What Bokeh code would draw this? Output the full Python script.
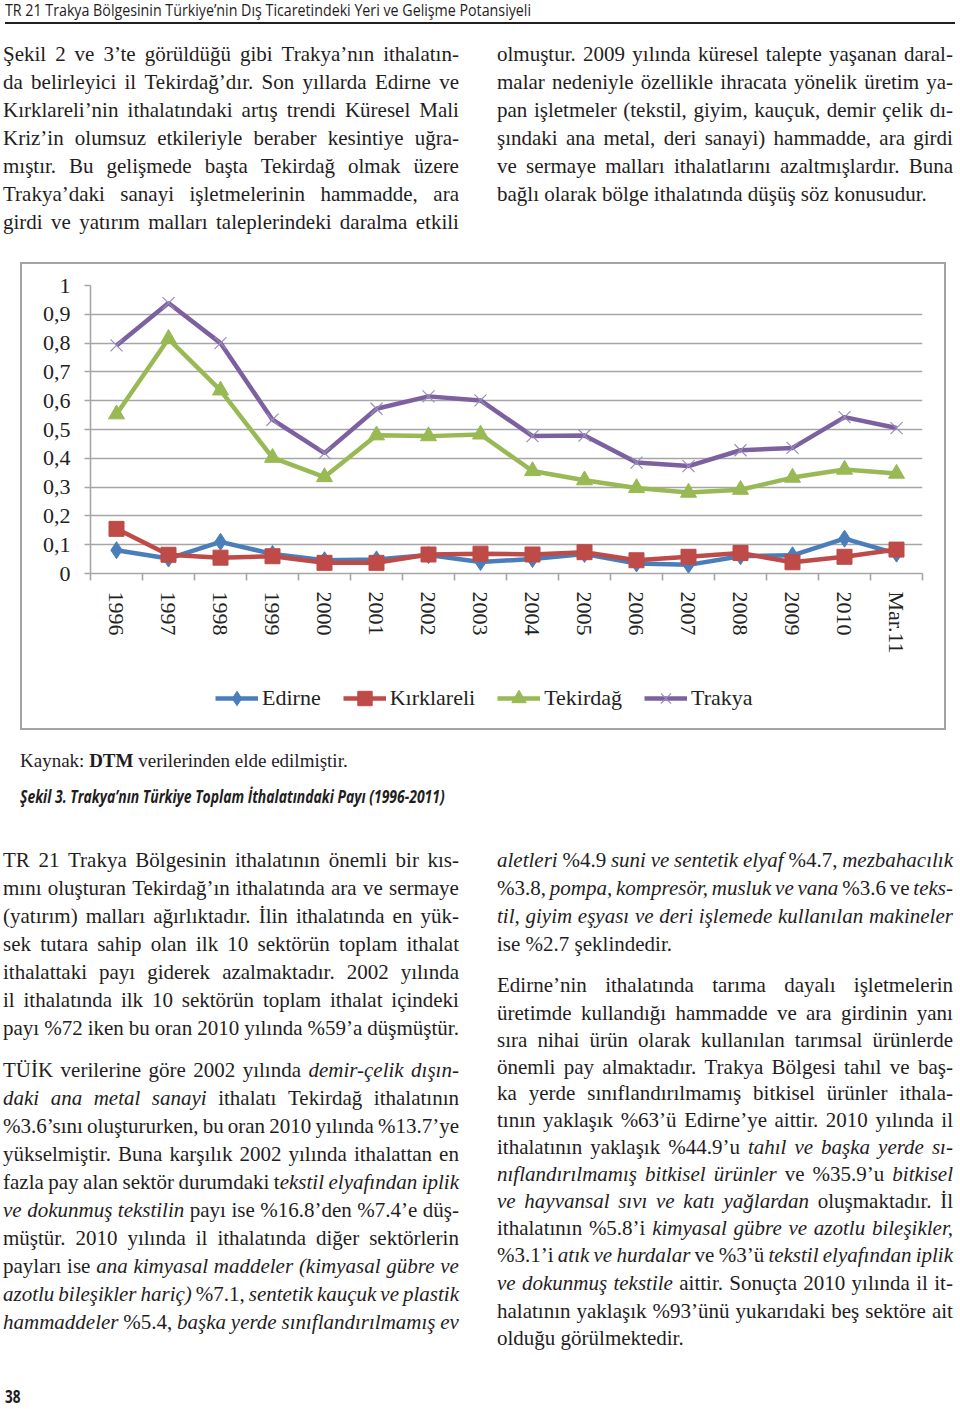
from bokeh.plotting import figure
from bokeh.models import (Range1d, FixedTicker, CustomJSTickFormatter, Legend,
                          LegendItem, Div, Spacer)
from bokeh.layouts import column, row
from bokeh.embed import file_html
from bokeh.resources import INLINE
import numpy as np
import html

# ---------------- chart data ----------------
years = ["1996", "1997", "1998", "1999", "2000", "2001", "2002", "2003",
         "2004", "2005", "2006", "2007", "2008", "2009", "2010", "Mar.11"]
edirne = [0.081, 0.052, 0.110, 0.068, 0.046, 0.049, 0.064, 0.040,
          0.050, 0.068, 0.035, 0.030, 0.060, 0.063, 0.121, 0.069]
kirklareli = [0.155, 0.065, 0.055, 0.060, 0.037, 0.037, 0.066, 0.069,
              0.066, 0.074, 0.046, 0.058, 0.071, 0.039, 0.058, 0.083]
tekirdag = [0.553, 0.815, 0.636, 0.402, 0.335, 0.480, 0.477, 0.483,
            0.356, 0.324, 0.297, 0.281, 0.291, 0.333, 0.361, 0.347]
trakya = [0.792, 0.939, 0.800, 0.534, 0.418, 0.572, 0.615, 0.601,
          0.477, 0.479, 0.385, 0.373, 0.428, 0.436, 0.543, 0.505]
series_names = ["Edirne", "Kırklareli", "Tekirdağ", "Trakya"]
y_ticks = [0, 0.1, 0.2, 0.3, 0.4, 0.5, 0.6, 0.7, 0.8, 0.9, 1]

# ---------------- page text ----------------
header_text = "TR 21 Trakya Bölgesinin Türkiye’nin Dış Ticaretindeki Yeri ve Gelişme Potansiyeli"

top_left = [
    "Şekil 2 ve 3’te görüldüğü gibi Trakya’nın ithalatın-",
    "da belirleyici il Tekirdağ’dır. Son yıllarda Edirne ve",
    "Kırklareli’nin ithalatındaki artış trendi Küresel Mali",
    "Kriz’in olumsuz etkileriyle beraber kesintiye uğra-",
    "mıştır. Bu gelişmede başta Tekirdağ olmak üzere",
    "Trakya’daki sanayi işletmelerinin hammadde, ara",
    "girdi ve yatırım malları taleplerindeki daralma etkili",
]
top_left_y = [55, 83, 111, 139, 167, 195, 223]
top_right = [
    "olmuştur. 2009 yılında küresel talepte yaşanan daral-",
    "malar nedeniyle özellikle ihracata yönelik üretim ya-",
    "pan işletmeler (tekstil, giyim, kauçuk, demir çelik dı-",
    "şındaki ana metal, deri sanayi) hammadde, ara girdi",
    "ve sermaye malları ithalatlarını azaltmışlardır. Buna",
    "bağlı olarak bölge ithalatında düşüş söz konusudur.",
]
top_right_y = [55, 83, 111, 139, 167, 195]

source_text = "Kaynak: <b>DTM</b> verilerinden elde edilmiştir."
caption_text = "Şekil 3. Trakya’nın Türkiye Toplam İthalatındaki Payı (1996-2011)"

bl_p1 = [
    "TR 21 Trakya Bölgesinin ithalatının önemli bir kıs-",
    "mını oluşturan Tekirdağ’ın ithalatında ara ve sermaye",
    "(yatırım) malları ağırlıktadır. İlin ithalatında en yük-",
    "sek tutara sahip olan ilk 10 sektörün toplam ithalat",
    "ithalattaki payı giderek azalmaktadır. 2002 yılında",
    "il ithalatında ilk 10 sektörün toplam ithalat içindeki",
    "payı %72 iken bu oran 2010 yılında %59’a düşmüştür.",
]
bl_p1_y = [861, 889, 917, 945, 973, 1001, 1029]
bl_p2 = [
    "TÜİK verilerine göre 2002 yılında *demir-çelik dışın-*",
    "*daki ana metal sanayi* ithalatı Tekirdağ ithalatının",
    "%3.6’sını oluştururken, bu oran 2010 yılında %13.7’ye",
    "yükselmiştir. Buna karşılık 2002 yılında ithalattan en",
    "fazla pay alan sektör durumdaki t*ekstil elyafından iplik*",
    "*ve dokunmuş tekstilin* payı ise %16.8’den %7.4’e düş-",
    "müştür. 2010 yılında il ithalatında diğer sektörlerin",
    "payları ise *ana kimyasal maddeler (kimyasal gübre ve*",
    "*azotlu bileşikler hariç)* %7.1, *sentetik kauçuk ve plastik*",
    "*hammaddeler* %5.4, *başka yerde sınıflandırılmamış ev*",
]
bl_p2_y = [1071, 1099, 1127, 1155, 1183, 1211, 1239, 1267, 1295, 1323]
br_p1 = [
    "*aletleri* %4.9 *suni ve sentetik elyaf* %4.7, *mezbahacılık*",
    "%3.8, *pompa, kompresör, musluk ve vana* %3.6 ve *teks-*",
    "*til, giyim eşyası ve deri işlemede kullanılan makineler*",
    "ise %2.7 şeklindedir.",
]
br_p1_y = [861, 889, 917, 945]
br_p2 = [
    "Edirne’nin ithalatında tarıma dayalı işletmelerin",
    "üretimde kullandığı hammadde ve ara girdinin yanı",
    "sıra nihai ürün olarak kullanılan tarımsal ürünlerde",
    "önemli pay almaktadır. Trakya Bölgesi tahıl ve baş-",
    "ka yerde sınıflandırılmamış bitkisel ürünler ithala-",
    "tının yaklaşık %63’ü Edirne’ye aittir. 2010 yılında il",
    "ithalatının yaklaşık %44.9’u *tahıl ve başka yerde sı-*",
    "*nıflandırılmamış bitkisel ürünler* ve %35.9’u *bitkisel*",
    "*ve hayvansal sıvı ve katı yağlardan* oluşmaktadır. İl",
    "ithalatının %5.8’i *kimyasal gübre ve azotlu bileşikler,*",
    "%3.1’i *atık ve hurdalar* ve %3’ü *tekstil elyafından iplik*",
    "*ve dokunmuş tekstile* aittir. Sonuçta 2010 yılında il it-",
    "halatının yaklaşık %93’ünü yukarıdaki beş sektöre ait",
    "olduğu görülmektedir.",
]
br_p2_y = [986, 1014, 1041, 1068, 1094, 1121, 1148, 1175, 1202, 1229,
           1256, 1284, 1312, 1339]
page_number = "38"

SERIF = "'Liberation Serif', 'Times New Roman', serif"
SANS = "'Open Sans', sans-serif"
TEXT_COLOR = "#1f1d1e"
FS = 21      # body font size
LH = 28      # line box height


def words_html(line):
    out = []
    italic = False
    for word in line.split(" "):
        parts = word.split("*")
        h = ""
        for k, part in enumerate(parts):
            if k > 0:
                italic = not italic
            if part:
                e = html.escape(part)
                h += f"<i>{e}</i>" if italic else e
        out.append(h)
    return out


def line_div(line, left, top, width, justify):
    ws = words_html(line)
    style = (f"position:absolute;left:{left}px;top:{top}px;width:{width}px;"
             f"height:{LH}px;line-height:{LH}px;font-size:{FS}px;white-space:nowrap;")
    if justify:
        style += "display:flex;justify-content:space-between;"
        inner = "".join(f"<span>{w}</span>" for w in ws)
    else:
        inner = " ".join(ws)
    return f'<div style="{style}">{inner}</div>'


def para(lines, ys, left, width, offset, last_justified):
    out = []
    for i, (ln, yc) in enumerate(zip(lines, ys)):
        just = last_justified or i < len(lines) - 1
        out.append(line_div(ln, left, yc - 15 - offset, width, just))
    return "".join(out)


PAGE_W = 960
TOP_H = 262
CHART_H = 468
BOT_H = 1409 - TOP_H - CHART_H
B = TOP_H + CHART_H

LEFT_X, LEFT_W = 3, 456
RIGHT_X, RIGHT_W = 497, 456

# ---------------- top block ----------------
top_html = (
    f'<div style="position:relative;width:{PAGE_W}px;height:{TOP_H}px;'
    f'font-family:{SERIF};color:{TEXT_COLOR};">'
    f'<div style="position:absolute;left:5px;top:1px;white-space:nowrap;'
    f'font-family:{SANS};font-size:16px;line-height:18px;color:{TEXT_COLOR};'
    f'transform:scaleX(0.89);transform-origin:0 0;">{html.escape(header_text)}</div>'
    f'<div style="position:absolute;left:5px;top:21.5px;width:950px;height:2.5px;'
    f'background:#231f20;"></div>'
    + para(top_left, top_left_y, LEFT_X, LEFT_W, 0, True)
    + para(top_right, top_right_y, RIGHT_X, RIGHT_W, 0, False)
    + '</div>'
)
top_div = Div(text=top_html, width=PAGE_W, height=TOP_H, margin=(0, 0, 0, 0))

# ---------------- chart ----------------
BORDER = "#a3a3a3"
FIG_W = 922
INNER_H = 464
LEG_H = 60
MAIN_H = INNER_H - LEG_H

p = figure(width=FIG_W, height=MAIN_H, output_backend="svg", toolbar_location=None,
           x_range=Range1d(0, len(years)), y_range=Range1d(0, 1),
           min_border_left=68, min_border_right=22, min_border_top=21,
           min_border_bottom=MAIN_H - 21 - 288, outline_line_color=None,
           background_fill_color="white", border_fill_color="white")

xs = np.arange(len(years)) + 0.5
GRID = "#a6a6a6"

p.xgrid.visible = False
p.ygrid.ticker = FixedTicker(ticks=y_ticks)
p.ygrid.grid_line_color = GRID
p.ygrid.grid_line_width = 1.6

p.yaxis.ticker = FixedTicker(ticks=y_ticks)
p.yaxis.formatter = CustomJSTickFormatter(code="""
    if (Math.abs(tick) < 1e-9) return '0';
    if (Math.abs(tick - 1) < 1e-9) return '1';
    return tick.toFixed(1).replace('.', ',');
""")
p.yaxis.axis_line_color = GRID
p.yaxis.axis_line_width = 1.6
p.yaxis.major_tick_line_color = GRID
p.yaxis.major_tick_line_width = 1.6
p.yaxis.major_tick_out = 6
p.yaxis.major_tick_in = 0
p.yaxis.minor_tick_line_color = None
p.yaxis.major_label_standoff = 14
p.yaxis.major_label_text_font = "Liberation Serif"
p.yaxis.major_label_text_font_size = "22px"
p.yaxis.major_label_text_color = "#222222"

p.xaxis.ticker = FixedTicker(ticks=list(xs), minor_ticks=list(range(len(years) + 1)))
p.xaxis.formatter = CustomJSTickFormatter(args=dict(labels=years), code="""
    return labels[Math.floor(tick)];
""")
p.xaxis.axis_line_color = GRID
p.xaxis.axis_line_width = 1.6
p.xaxis.major_tick_line_color = None
p.xaxis.major_tick_out = 0
p.xaxis.major_tick_in = 0
p.xaxis.minor_tick_line_color = GRID
p.xaxis.minor_tick_line_width = 1.6
p.xaxis.minor_tick_out = 7
p.xaxis.minor_tick_in = 0
p.xaxis.major_label_orientation = "vertical"
p.xaxis.major_label_standoff = 11
p.xaxis.major_label_text_font = "Liberation Serif"
p.xaxis.major_label_text_font_size = "22px"
p.xaxis.major_label_text_color = "#222222"

colors = ["#4a7ebb", "#be4b48", "#98b954", "#7d60a0"]
values = [edirne, kirklareli, tekirdag, trakya]
markers = ["diamond", "square", "triangle", "x"]
msizes = [17, 15, 16, 17]


def draw_series(fig, name, vals, col, mk, ms):
    ln = fig.line(xs, vals, line_color=col, line_width=4.5)
    if mk == "x":
        sc = fig.scatter(xs, vals, marker="x", size=ms, line_color="#9a8cb8",
                         line_width=1.2)
    else:
        sc = fig.scatter(xs, vals, marker=mk, size=ms, fill_color=col,
                         line_color=col, line_width=1)
    return ln, sc


for name, vals, col, mk, ms in zip(series_names, values, colors, markers, msizes):
    draw_series(p, name, vals, col, mk, ms)

# legend strip: its own figure (same series, outside its visible y-range)
pl = figure(width=FIG_W, height=LEG_H, output_backend="svg", toolbar_location=None,
            x_range=Range1d(0, len(years)), y_range=Range1d(10, 11),
            min_border=0, outline_line_color=None,
            background_fill_color="white", border_fill_color="white")
pl.axis.visible = False
pl.grid.visible = False
items = []
for name, vals, col, mk, ms in zip(series_names, values, colors, markers, msizes):
    ln, sc = draw_series(pl, name, vals, col, mk, ms)
    items.append(LegendItem(label=name, renderers=[ln, sc]))

legend = Legend(items=items, orientation="horizontal", location=(125, 12),
                border_line_color=None, background_fill_alpha=0,
                label_text_font="Liberation Serif", label_text_font_size="22px",
                label_text_color="#222222",
                glyph_width=43, glyph_height=36, spacing=22, label_standoff=4,
                padding=0, margin=0)
pl.add_layout(legend, "center")

hline = lambda: Div(width=926, height=2, margin=(0, 0, 0, 0),
                    styles={"background-color": BORDER})
vline = lambda: Div(width=2, height=INNER_H, margin=(0, 0, 0, 0),
                    styles={"background-color": BORDER})
chart_block = row(
    Spacer(width=20, height=CHART_H, margin=(0, 0, 0, 0)),
    column(hline(),
           row(vline(), column(p, pl, spacing=0), vline(), spacing=0),
           hline(), spacing=0),
    spacing=0,
)

# ---------------- bottom block ----------------
bottom_html = (
    f'<div style="position:relative;width:{PAGE_W}px;height:{BOT_H}px;'
    f'font-family:{SERIF};color:{TEXT_COLOR};">'
    f'<div style="position:absolute;left:20px;top:{763 - 14 - B}px;white-space:nowrap;'
    f'font-size:19px;line-height:24px;">{source_text}</div>'
    f'<div style="position:absolute;left:20px;top:{798 - 12 - B}px;white-space:nowrap;'
    f'font-family:{SANS};font-size:17px;line-height:22px;font-weight:700;font-style:italic;'
    f'transform:scaleX(0.82);transform-origin:0 0;">{html.escape(caption_text)}</div>'
    + para(bl_p1, bl_p1_y, LEFT_X, LEFT_W, B, True)
    + para(bl_p2, bl_p2_y, LEFT_X, LEFT_W, B, True)
    + para(br_p1, br_p1_y, RIGHT_X, RIGHT_W, B, False)
    + para(br_p2, br_p2_y, RIGHT_X, RIGHT_W, B, False)
    + f'<div style="position:absolute;left:5px;top:{1398 - 11 - B}px;white-space:nowrap;'
    f'font-family:{SANS};font-size:17px;line-height:20px;font-weight:700;'
    f'transform:scaleX(0.8);transform-origin:0 0;">{page_number}</div>'
    + '</div>'
)
bottom_div = Div(text=bottom_html, width=PAGE_W, height=BOT_H, margin=(0, 0, 0, 0))

page = column(top_div, chart_block, bottom_div, spacing=0)

open("out.html", "w").write(file_html(page, INLINE))
